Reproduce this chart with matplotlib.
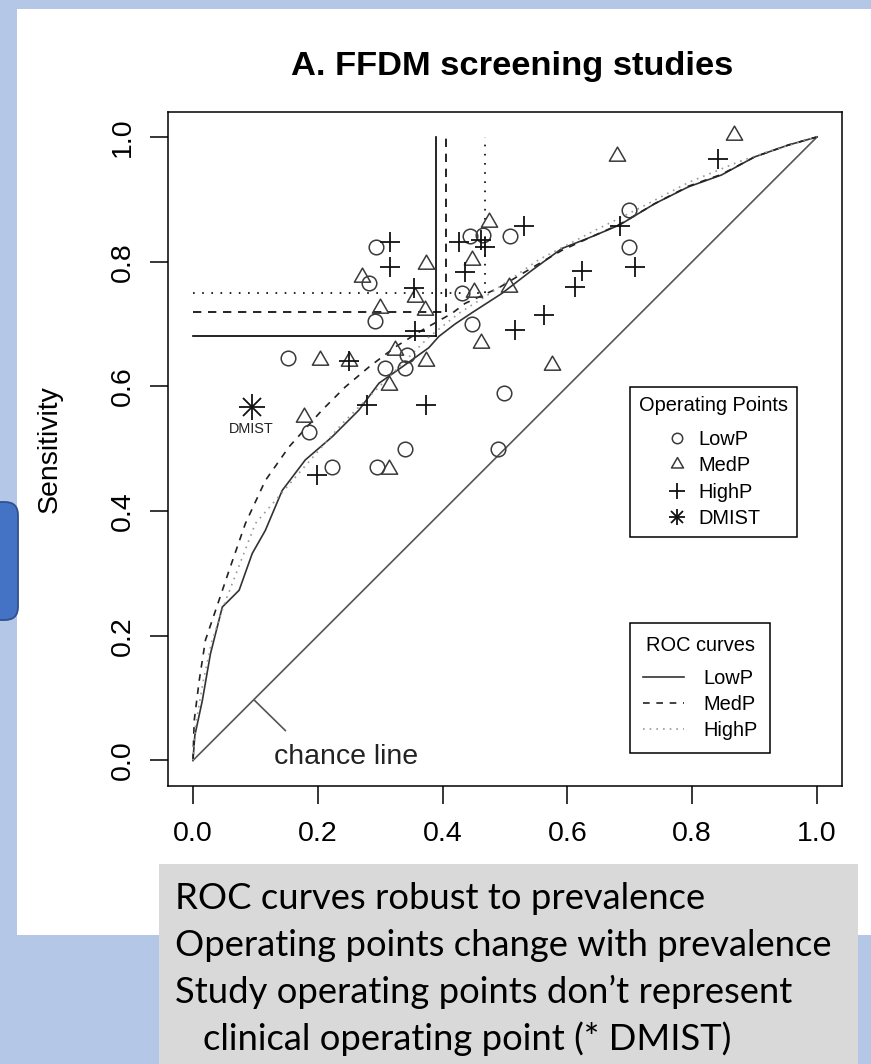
import matplotlib
matplotlib.use("Agg")
import matplotlib.pyplot as plt
from matplotlib.patches import Rectangle, FancyBboxPatch
from matplotlib.lines import Line2D
from matplotlib.path import Path

plt.rcParams['font.family'] = ['Liberation Sans', 'DejaVu Sans']

# ---------------- data ----------------
low_fpr = [0.294, 0.282, 0.292, 0.153, 0.343, 0.308, 0.339, 0.444, 0.464, 0.508,
           0.431, 0.447, 0.698, 0.699, 0.499, 0.186, 0.340, 0.489, 0.223, 0.295]
low_tpr = [0.824, 0.765, 0.705, 0.646, 0.650, 0.629, 0.629, 0.841, 0.843, 0.841,
           0.749, 0.700, 0.883, 0.824, 0.589, 0.527, 0.499, 0.499, 0.471, 0.471]

med_fpr = [0.271, 0.373, 0.355, 0.372, 0.300, 0.204, 0.250, 0.324, 0.373, 0.314,
           0.474, 0.447, 0.451, 0.506, 0.462, 0.575, 0.867, 0.679, 0.178, 0.314]
med_tpr = [0.776, 0.796, 0.744, 0.722, 0.725, 0.642, 0.641, 0.658, 0.640, 0.602,
           0.864, 0.803, 0.752, 0.760, 0.669, 0.634, 1.003, 0.969, 0.551, 0.468]

high_fpr = [0.315, 0.315, 0.354, 0.355, 0.250, 0.426, 0.461, 0.468, 0.530, 0.436,
            0.516, 0.563, 0.842, 0.684, 0.709, 0.624, 0.612, 0.279, 0.373, 0.199]
high_tpr = [0.831, 0.792, 0.757, 0.689, 0.641, 0.832, 0.835, 0.823, 0.857, 0.784,
            0.690, 0.714, 0.965, 0.857, 0.792, 0.785, 0.760, 0.570, 0.570, 0.457]

dmist_fpr = [0.094]
dmist_tpr = [0.567]

roc_low_fpr = [0, 0.003, 0.015, 0.028, 0.047, 0.074, 0.095, 0.116, 0.143, 0.180,
               0.223, 0.266, 0.298, 0.335, 0.378, 0.394, 0.420, 0.447, 0.495, 0.543,
               0.591, 0.639, 0.684, 0.740, 0.794, 0.847, 0.900, 0.954, 1.0]
roc_low_tpr = [0, 0.040, 0.096, 0.171, 0.246, 0.273, 0.332, 0.369, 0.433, 0.482,
               0.519, 0.562, 0.605, 0.631, 0.662, 0.680, 0.700, 0.718, 0.749, 0.786,
               0.821, 0.840, 0.859, 0.893, 0.920, 0.939, 0.968, 0.987, 1.0]

roc_med_fpr = [0, 0.002, 0.010, 0.020, 0.036, 0.058, 0.084, 0.116, 0.154, 0.207,
               0.244, 0.282, 0.324, 0.367, 0.415, 0.436, 0.490, 0.543, 0.591, 0.639,
               0.684, 0.740, 0.794, 0.847, 0.900, 0.954, 1.0]
roc_med_tpr = [0, 0.064, 0.128, 0.193, 0.240, 0.305, 0.380, 0.449, 0.503, 0.562,
               0.599, 0.631, 0.663, 0.690, 0.717, 0.733, 0.758, 0.790, 0.818, 0.840,
               0.860, 0.893, 0.921, 0.940, 0.968, 0.987, 1.0]

roc_high_fpr = [0, 0.004, 0.016, 0.030, 0.050, 0.075, 0.100, 0.170, 0.239, 0.314,
                0.378, 0.426, 0.470, 0.554, 0.640, 0.714, 0.794, 0.874, 0.926, 1.0]
roc_high_tpr = [0, 0.055, 0.125, 0.190, 0.250, 0.315, 0.380, 0.461, 0.540, 0.615,
                0.679, 0.717, 0.745, 0.803, 0.848, 0.885, 0.927, 0.960, 0.978, 1.0]

# summary operating points (LowP, MedP, HighP)
ref_fpr = [0.389, 0.405, 0.468]
ref_tpr = [0.680, 0.719, 0.750]

chance_x = [0, 1]
chance_y = [0, 1]
chance_tick_x = [0.099, 0.148]
chance_tick_y = [0.096, 0.048]

ticks = [0.0, 0.2, 0.4, 0.6, 0.8, 1.0]
tick_labels = ['0.0', '0.2', '0.4', '0.6', '0.8', '1.0']

title = 'A. FFDM screening studies'
notes = ['ROC curves robust to prevalence',
         'Operating points change with prevalence',
         'Study operating points don\u2019t represent',
         'clinical operating point (* DMIST)']

# ---------------- figure ----------------
W, H = 871, 1064
fig = plt.figure(figsize=(W / 100, H / 100), dpi=100)
fig.patch.set_facecolor('#B4C7E7')


def fx(px):
    return px / W


def fy(py):
    return 1 - py / H


def prect(x0, y0, x1, y1, **kw):
    r = Rectangle((fx(x0), fy(y1)), fx(x1) - fx(x0), fy(y0) - fy(y1),
                  transform=fig.transFigure, **kw)
    fig.add_artist(r)
    return r


prect(17, 9, 880, 935, facecolor='white', edgecolor='none', zorder=-5)
prect(159, 864, 858, 1070, facecolor='#D9D9D9', edgecolor='none', zorder=-4)
box = FancyBboxPatch((fx(-30), fy(620)), fx(48), fy(502) - fy(620),
                     boxstyle='round,pad=0,rounding_size=0.015',
                     transform=fig.transFigure, facecolor='#4472C4',
                     edgecolor='#2F528F', lw=1.3, zorder=-3,
                     mutation_aspect=W / H)
fig.add_artist(box)

ax = fig.add_axes([fx(168), fy(786), fx(842) - fx(168), fy(112) - fy(786)])
ax.set_facecolor('white')
ax.set_xlim(-0.04, 1.04)
ax.set_ylim(-0.041, 1.04)
for s in ax.spines.values():
    s.set_linewidth(1.1)
    s.set_color('black')

ax.set_xticks(ticks)
ax.set_xticklabels(tick_labels)
ax.set_yticks(ticks)
ax.set_yticklabels(tick_labels, rotation=90, va='center')
ax.tick_params(axis='both', direction='out', length=13, width=1.1,
               labelsize=20.5, color='black')
ax.tick_params(axis='x', pad=12)
ax.tick_params(axis='y', pad=10)

# chance line
ax.plot(chance_x, chance_y, color='#555555', lw=1.2, zorder=2)
ax.plot(chance_tick_x, chance_tick_y, color='#555555', lw=1.2, zorder=2)
ax.text(0.13, 0.005, 'chance line', fontsize=20.5, ha='left', va='center',
        color='#222222')

# reference (summary) lines
ref_styles = ['-', (0, (5, 4)), (0, (1, 4.5))]
for fp, tp, ls in zip(ref_fpr, ref_tpr, ref_styles):
    ax.plot([fp, fp], [tp, 1.0], color='black', lw=1.2, ls=ls, zorder=3)
    ax.plot([0, fp], [tp, tp], color='black', lw=1.2, ls=ls, zorder=3)

# ROC curves
ax.plot(roc_low_fpr, roc_low_tpr, color='#333333', lw=1.2, ls='-', zorder=3)
ax.plot(roc_med_fpr, roc_med_tpr, color='#222222', lw=1.2, ls=(0, (4, 4)), zorder=3)
ax.plot(roc_high_fpr, roc_high_tpr, color='#999999', lw=1.2, ls=(0, (1, 3)), zorder=3)

# operating points
tri = Path([(-1.0, -0.577), (1.0, -0.577), (0.0, 1.155), (-1.0, -0.577)], closed=True)
ax.plot(low_fpr, low_tpr, ls='none', marker='o', ms=10.5, mfc='none',
        mec='#3a3a3a', mew=1.1, zorder=4)
ax.plot(med_fpr, med_tpr, ls='none', marker=tri, ms=13.5, mfc='none',
        mec='#3a3a3a', mew=1.1, zorder=4)
ax.plot(high_fpr, high_tpr, ls='none', marker='+', ms=14, mec='#111111',
        mew=1.3, zorder=4)
ax.plot(dmist_fpr, dmist_tpr, ls='none', marker='+', ms=19, mec='#111111',
        mew=1.3, zorder=4)
ax.plot(dmist_fpr, dmist_tpr, ls='none', marker='x', ms=13, mec='#111111',
        mew=1.3, zorder=4)
ax.text(dmist_fpr[0], dmist_tpr[0] - 0.036, 'DMIST', fontsize=10.4,
        ha='center', va='center', color='#222222')

# legends
h_low = Line2D([], [], ls='none', marker='o', ms=7.5, mfc='none', mec='#3a3a3a', mew=1.1)
h_med = Line2D([], [], ls='none', marker=tri, ms=10, mfc='none', mec='#3a3a3a', mew=1.1)
h_high = Line2D([], [], ls='none', marker='+', ms=11, mec='#111111', mew=1.3)
h_d1 = Line2D([], [], ls='none', marker='+', ms=11, mec='#111111', mew=1.3)
h_d2 = Line2D([], [], ls='none', marker='x', ms=8, mec='#111111', mew=1.3)
leg1 = ax.legend([h_low, h_med, h_high, (h_d1, h_d2)],
                 ['LowP', 'MedP', 'HighP', 'DMIST'],
                 title='Operating Points', loc='upper left',
                 bbox_to_anchor=(fx(630), fy(387)), bbox_transform=fig.transFigure,
                 borderaxespad=0, fontsize=14.4, title_fontsize=14.4,
                 frameon=True, fancybox=False, edgecolor='black', framealpha=1,
                 handlelength=1.0, handletextpad=0.55, labelspacing=0.36,
                 borderpad=0.45)
leg1.get_frame().set_linewidth(1.1)
leg1._legend_box.sep = 11
ax.add_artist(leg1)

g_low = Line2D([], [], color='#333333', lw=1.2, ls='-')
g_med = Line2D([], [], color='#222222', lw=1.2, ls=(0, (4, 4)))
g_high = Line2D([], [], color='#999999', lw=1.2, ls=(0, (1, 3)))
leg2 = ax.legend([g_low, g_med, g_high], ['LowP', 'MedP', 'HighP'],
                 title='ROC curves', loc='upper left',
                 bbox_to_anchor=(fx(630), fy(623)), bbox_transform=fig.transFigure,
                 borderaxespad=0, fontsize=14.4, title_fontsize=14.4,
                 frameon=True, fancybox=False, edgecolor='black', framealpha=1,
                 handlelength=2.05, handletextpad=0.95, labelspacing=0.36,
                 borderpad=0.65)
leg2.get_frame().set_linewidth(1.1)
leg2._legend_box.sep = 10

# titles / labels
fig.text(fx(512), fy(67), title, fontsize=24.8, fontweight='bold',
         ha='center', va='center')
fig.text(fx(50), fy(449), 'Sensitivity', fontsize=20.5, rotation=90,
         ha='center', va='center')

# notes in grey box (fit the longest line to its measured width)
renderer = fig.canvas.get_renderer()
probe = fig.text(0, 0, notes[1], fontsize=20, family=['Lato', 'DejaVu Sans'])
wpx = probe.get_window_extent(renderer=renderer).width
probe.remove()
note_size = 20 * 658.0 / wpx
note_x = [175, 175, 175, 203]
note_y = [909, 956, 1003, 1050]
for t, x, y in zip(notes, note_x, note_y):
    fig.text(fx(x), fy(y), t, fontsize=note_size, family=['Lato', 'DejaVu Sans'],
             ha='left', va='baseline', color='black')

fig.savefig('out.png', dpi=100, facecolor=fig.get_facecolor())
